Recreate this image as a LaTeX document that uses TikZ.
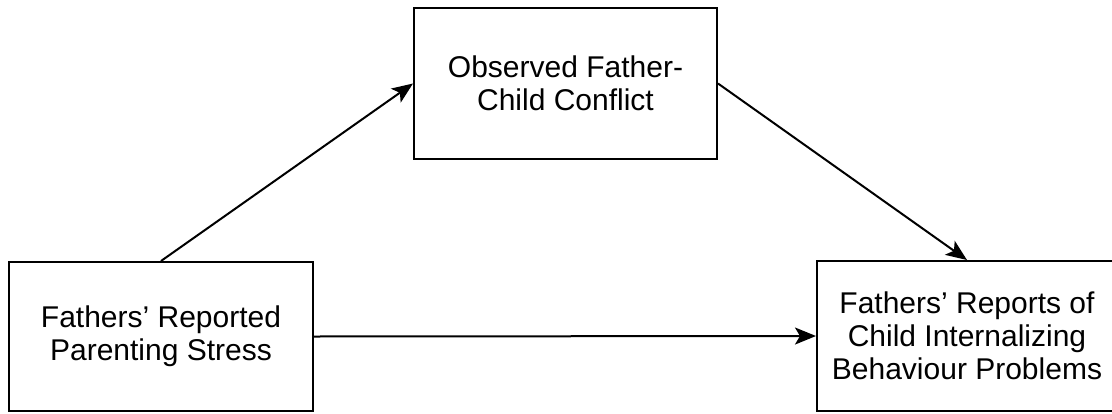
\documentclass[tikz,border=0pt]{standalone}
\usepackage{fontspec}
\setmainfont{Liberation Sans}
\usetikzlibrary{arrows.meta}
\begin{document}
\begin{tikzpicture}[x=1pt,y=-1pt,
  box/.style={draw=black, line width=2pt, rectangle, inner sep=0pt, align=center,
    font=\fontsize{30}{33}\selectfont, text=black},
  conn/.style={draw=black, line width=2pt, -{Stealth[length=21pt,width=17pt,inset=5pt]}}]
\useasboundingbox (0,0) rectangle (1112,413);
\node[box, minimum width=303pt, minimum height=151pt] (med) at (565.5,83.5) {Observed Father-\\Child Conflict};
\node[box, minimum width=304pt, minimum height=149pt] (pred) at (161,336.5) {Fathers’ Reported\\Parenting Stress};
\node[box, minimum width=300pt, minimum height=150pt] (out) at (967,336) {Fathers’ Reports of\\Child Internalizing\\Behaviour Problems};
\draw[conn] (pred.north) -- (med.west);
\draw[conn] (med.east) -- (out.north);
\draw[conn] (pred.east) -- (out.west);
\end{tikzpicture}
\end{document}
